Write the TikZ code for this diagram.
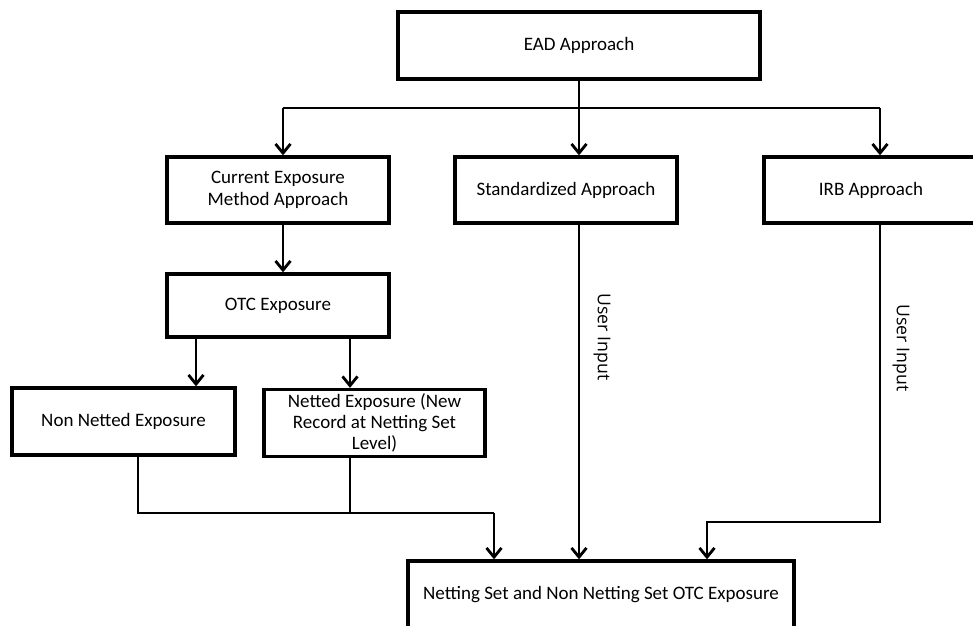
\documentclass[tikz,border=0pt]{standalone}
\usepackage{fontspec}
\setmainfont{Carlito}
\newfontfamily\inputfont{Open Sans}
\usetikzlibrary{positioning,arrows.meta}
\tikzset{
  eadbox/.style={draw, line width=2pt, font=\fontsize{11.4}{12.8}\selectfont,
    inner sep=0pt, align=center},
  eadarr/.style={-{Straight Barb[length=5.5pt,width=9pt]}, line width=1.7pt},
  eadline/.style={line width=1.7pt},
  inlabel/.style={font=\inputfont\fontsize{10.6}{12}\selectfont, rotate=-90},
}
\begin{document}
\begin{tikzpicture}[x=0.6pt, y=-0.6pt]
  \useasboundingbox (0,0) rectangle (973,625);
  \clip (0,0) rectangle (973,625);
  % ---- root ----
  \node[eadbox, minimum width=362*0.6pt, minimum height=67*0.6pt] at (579,45.5) (ead) {EAD Approach};
  % ---- approaches ----
  \node[eadbox, minimum width=222*0.6pt, minimum height=66*0.6pt] at (278,190) (cem) {Current Exposure\\Method Approach};
  \node[eadbox, minimum width=222*0.6pt, minimum height=66*0.6pt] at (566,190) (std) {Standardized Approach};
  \node[eadbox, minimum width=214*0.6pt, minimum height=66*0.6pt] at (871,190) (irb) {IRB Approach};
  % ---- OTC and its split ----
  \node[eadbox, minimum width=222*0.6pt, minimum height=63*0.6pt] at (278,305.5) (otc) {OTC Exposure};
  \node[eadbox, minimum width=223*0.6pt, minimum height=67*0.6pt] at (123.5,421.5) (nne) {Non Netted Exposure};
  \node[eadbox, minimum width=221*0.6pt, minimum height=67*0.6pt] at (374.5,423) (ne) {Netted Exposure (New\\Record at Netting Set\\Level)};
  % ---- target ----
  \node[eadbox, minimum width=386*0.6pt, minimum height=68*0.6pt] at (601,595) (nset) {Netting Set and Non Netting Set OTC Exposure};

  % ---- Edges ----
  \coordinate (barL) at (283,108);
  \coordinate (barR) at (880,108);
  \coordinate (join) at (494,513);
  \coordinate (irbturn) at (707,522);
  \draw[eadline] (ead.south) -- (ead.south |- barL);
  \draw[eadline] (barL) -- (barR);
  \draw[eadarr] (barL) -- (barL |- cem.north);
  \draw[eadarr] (ead.south |- barL) -- (ead.south |- std.north);
  \draw[eadarr] (barR) -- (barR |- irb.north);
  \draw[eadarr] (barL |- cem.south) -- (barL |- otc.north);
  % OTC split
  \draw[eadarr] (196,0 |- otc.south) -- (196,0 |- nne.north);
  \draw[eadarr] (350,0 |- otc.south) -- (350,0 |- ne.north);
  % merge into target
  \draw[eadline] (138,0 |- nne.south) |- (join);
  \draw[eadline] (350,0 |- ne.south) -- (350,0 |- join);
  \draw[eadarr] (join) -- (join |- nset.north);
  \draw[eadarr] (ead.south |- std.south) -- (ead.south |- nset.north);
  \draw[eadarr] (barR |- irb.south) |- (irbturn) -- (irbturn |- nset.north);
  % user input labels
  \node[inlabel] at (602,337) (stdin) {User Input};
  \node[inlabel] at (901,348) (irbin) {User Input};
\end{tikzpicture}
\end{document}
